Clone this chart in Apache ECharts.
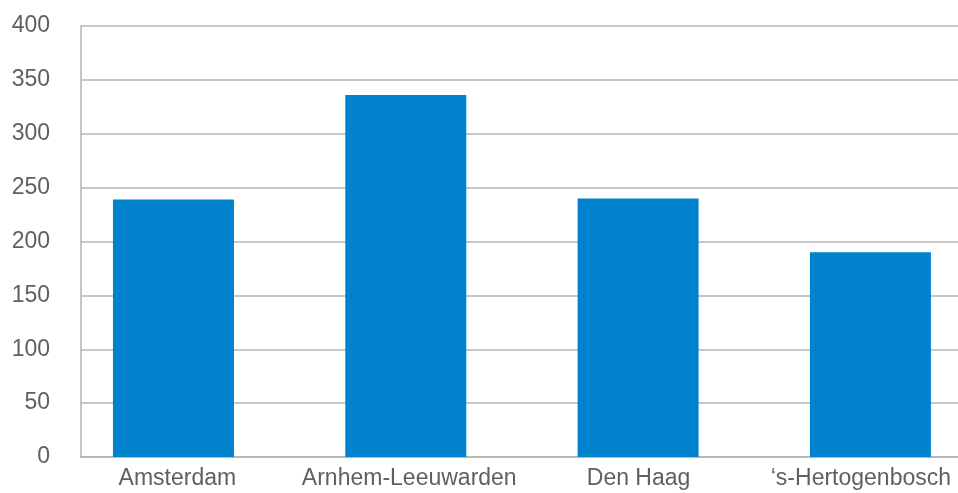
<!DOCTYPE html>
<html>
<head>
<meta charset="utf-8">
<script src="https://cdn.jsdelivr.net/npm/echarts@6/dist/echarts.min.js"></script>
<style>
html,body{margin:0;padding:0;background:#fff;}
#chart{width:958px;height:493px;}
</style>
</head>
<body>
<div id="chart"></div>
<script>
const categories = ['Amsterdam', 'Arnhem-Leeuwarden', 'Den Haag', '\u2018s-Hertogenbosch'];
const values = [239, 336, 240, 190];
const yMin = 0, yMax = 400, yInterval = 50;

const chart = echarts.init(document.getElementById('chart'), null, {renderer: 'canvas'});
const gridColor = '#b4b4b4';
const textStyle = {fontFamily: 'Liberation Sans, Arial, sans-serif', fontSize: 23, color: '#606060'};
const catIdx = categories.map((c, i) => i);
// small horizontal nudges of the category labels (layout only)
const labelNudge = [0.017, 0.015, 0.002, -0.041];
const labelPos = catIdx.map((i) => i + labelNudge[i]);

chart.setOption({
  animation: false,
  backgroundColor: '#ffffff',
  grid: {left: 81, right: 0, top: 26, bottom: 36, containLabel: false, outerBoundsMode: 'none'},
  xAxis: {
    type: 'value', min: -0.398, max: 3.377,
    axisLine: {show: true, onZero: false, lineStyle: {color: gridColor, width: 1.5}},
    axisTick: {show: false},
    splitLine: {show: false},
    axisLabel: Object.assign({
      margin: 10,
      customValues: labelPos,
      showMinLabel: true, showMaxLabel: true,
      hideOverlap: false,
      formatter: v => categories[Math.round(v)] || ''
    }, textStyle)
  },
  yAxis: {
    type: 'value', min: yMin, max: yMax, interval: yInterval,
    axisLine: {show: true, onZero: false, lineStyle: {color: gridColor, width: 1.5}},
    axisTick: {show: false},
    axisLabel: Object.assign({margin: 31}, textStyle),
    splitLine: {show: true, lineStyle: {color: gridColor, width: 1.5}}
  },
  series: [
    {
      type: 'bar',
      data: values.map((v, i) => [catIdx[i], v]),
      barWidth: 121,
      itemStyle: {color: '#0083cc'}
    }
  ]
});
</script>
</body>
</html>
